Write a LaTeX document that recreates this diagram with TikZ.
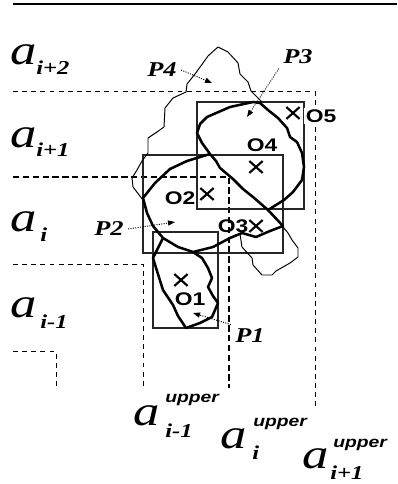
\documentclass[tikz,border=0pt]{standalone}
\usepackage{fontspec}
\setmainfont{Liberation Serif}[FakeStretch=1.25]
\setsansfont{Liberation Sans}[FakeStretch=1.25]
\usetikzlibrary{arrows.meta,shapes.misc}

\begin{document}
\begin{tikzpicture}[
    x=0.025cm, y=-0.025cm,
    >={Triangle[length=5pt,width=3.6pt]},
    lane/.style={line width=0.7pt, dash pattern=on 3.5pt off 3pt},
    mainlane/.style={line width=1.8pt, dash pattern=on 4.5pt off 2.5pt},
    mbr/.style={draw=black!85, line width=0.8pt},
    outline/.style={line width=0.7pt, line join=round},
    region/.style={line width=1.8pt, line join=round},
    pointer/.style={->, densely dotted, line width=0.7pt},
    centre/.style={draw, cross out, line width=1.5pt, minimum width=8pt, minimum height=7pt, inner sep=0pt},
    objname/.style={font=\fontsize{13}{13}\selectfont\sffamily\bfseries, inner sep=1pt},
    regname/.style={font=\fontsize{15}{15}\selectfont\bfseries\itshape, inner sep=3pt},
    attr/.style={font=\fontsize{30}{30}\selectfont\itshape, inner sep=0pt, anchor=base west},
    idx/.style={font=\fontsize{14}{14}\selectfont\bfseries\itshape, inner sep=0pt, anchor=base west},
    upr/.style={font=\fontsize{11}{11}\selectfont\sffamily\bfseries\itshape, inner sep=0pt, anchor=base west}
]
\useasboundingbox (0,0) rectangle (397,484);

\draw[line width=2pt] (13,4) -- (397,4);

\draw[lane] (13,91) -- (315,91) -- (315,410);
\draw[mainlane] (13,177) -- (229,177) -- (229,388);
\draw[lane] (13,264) -- (143,264) -- (143,387);
\draw[lane] (13,351) -- (56,351) -- (56,388);

\draw[mbr] (197,102) rectangle (304,209);
\draw[mbr] (143,155) rectangle (283,253);
\draw[mbr] (153,232) rectangle (218,328);

\draw[outline] (143,200) -- (133,187) -- (132,178) -- (137,170) -- (142,161) -- (148,153)
    -- (148,138) -- (157,132) -- (164,127) -- (165,108) -- (173,98) -- (186,92) -- (187,84)
    -- (195,74) -- (203,63) -- (208,56) -- (218,47) -- (228,52) -- (238,63) -- (240,74)
    -- (248,82) -- (251,91) -- (262,102);
\draw[outline] (240,234) -- (242,247) -- (252,258) -- (253,265) -- (262,275) -- (272,275)
    -- (276,271) -- (290,263) -- (298,257) -- (298,248) -- (292,240) -- (288,233) -- (283,227);

\draw[region] (197,133) -- (200,124) -- (207,117) -- (230,107) -- (253,102) -- (260,103)
    -- (268,110) -- (278,118) -- (287,128) -- (290,137) -- (297,142) -- (302,153) -- (304,167)
    -- (302,180) -- (293,192) -- (284,200) -- (268,210) -- (253,197) -- (243,189) -- (233,179)
    -- (220,168) -- (216,161) -- (210,154) -- (202,143) -- cycle;
\draw[region] (210,154) -- (187,161) -- (170,169) -- (155,183) -- (143,198) -- (147,213)
    -- (153,226) -- (163,238) -- (178,247) -- (193,252) -- (213,247) -- (230,238) -- (242,233)
    -- (256,237) -- (270,231) -- (283,226) -- (268,210);
\draw[region] (163,238) -- (153,258) -- (157,271) -- (163,290) -- (173,305) -- (178,316)
    -- (186,328) -- (200,323) -- (212,317) -- (218,303) -- (213,296) -- (208,287) -- (212,278)
    -- (208,268) -- (202,258) -- (193,252);

\node[centre] (c5) at (293,113) {};
\node[centre] (c4) at (256,167) {};
\node[centre] (c2) at (207,194) {};
\node[centre] (c3) at (256,226) {};
\node[centre] (c1) at (181,280) {};

\node[objname, fill=white] (o5) at (321,116) {O5};
\node[objname] (o4) at (262,145) {O4};
\node[objname] (o2) at (180,198) {O2};
\node[objname] (o3) at (233,226) {O3};
\node[objname] (o1) at (190,299) {O1};

\node[regname] (p4lbl) at (162,70) {P4};
\node[regname] (p3lbl) at (298,57) {P3};
\node[regname] (p2lbl) at (109,229) {P2};
\node[regname] (p1lbl) at (250,336) {P1};

\coordinate (p4tip) at (212,83);
\coordinate (p3tip) at (247,117);
\coordinate (p2tip) at (175,222);
\coordinate (p1tip) at (193,313);

\draw[pointer] (p4lbl.east) -- (p4tip);
\draw[pointer] (p3lbl.south west) -- (p3tip);
\draw[pointer] (p2lbl.east) -- (p2tip);
\draw[pointer] (p1lbl.north west) -- (p1tip);

\node[attr] (a2) at (10,65) {a};
\node[idx] (a2i) at (36,75) {i+2};
\node[attr] (a1) at (10,148) {a};
\node[idx] (a1i) at (36,157) {i+1};
\node[attr] (a0) at (10,232) {a};
\node[idx] (a0i) at (40,241) {i};
\node[attr] (am) at (10,317) {a};
\node[idx] (ami) at (40,328) {i-1};

\node[attr] (um) at (133,425) {a};
\node[upr] (umu) at (165,402) {upper};
\node[idx] (umi) at (165,437) {i-1};
\node[attr] (u0) at (220,448) {a};
\node[upr] (u0u) at (253,426) {upper};
\node[idx] (u0i) at (252,459) {i};
\node[attr] (u1) at (302,468) {a};
\node[upr] (u1u) at (333,447) {upper};
\node[idx] (u1i) at (330,479) {i+1};
\end{tikzpicture}
\end{document}
